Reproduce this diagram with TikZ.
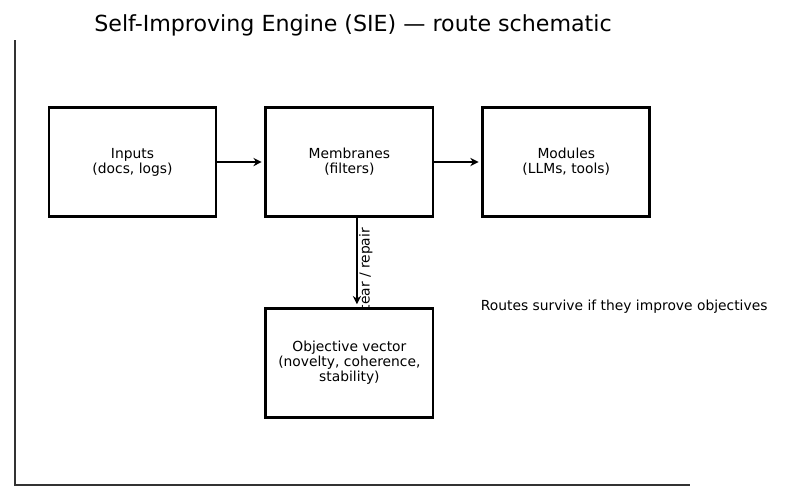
\documentclass[tikz,border=0pt]{standalone}
\usepackage{fontspec}
\setmainfont{DejaVu Sans}
\usetikzlibrary{positioning,arrows.meta,backgrounds}
\begin{document}
\begin{tikzpicture}[
        x=0.01in, y=-0.01in,
        node distance=0.47in,
        every node/.style={font=\fontsize{10}{10.8}\selectfont},
        box/.style={rectangle, draw, line width=2pt, fill=white, align=center,
            minimum width=1.67in, minimum height=1.09in},
        flow/.style={-{Stealth[length=6pt,width=6pt]}, line width=1.8pt, shorten >=2pt},
        axis/.style={draw=black!80, line width=0.8pt}
    ]
    \useasboundingbox (0,0) rectangle (800,500);
    \node (title) at (353,25) {\fontsize{16}{18}\selectfont Self-Improving Engine (SIE) --- route schematic};
    \draw [axis] (15,40) -- (15,485) -- (690,485);

    \node [box] (inputs) at (132.5,162) {Inputs\\(docs, logs)};
    \node [box, right=of inputs] (membranes) {Membranes\\(filters)};
    \node [box, right=of membranes] (modules) {Modules\\(LLMs, tools)};
    \node [box, below=0.89in of membranes] (objective) {Objective vector\\(novelty, coherence,\\stability)};

    \draw [flow] (inputs) -- (membranes);
    \draw [flow] (membranes) -- (modules);
    \begin{scope}[on background layer]
        \draw [flow] ([xshift=0.075in]membranes.south) -- ([xshift=0.075in]objective.north)
            node [pos=0.575, xshift=0.09in, rotate=90] {tear / repair};
    \end{scope}

    \node [anchor=west] (note) at (476,307) {Routes survive if they improve objectives};
\end{tikzpicture}
\end{document}
